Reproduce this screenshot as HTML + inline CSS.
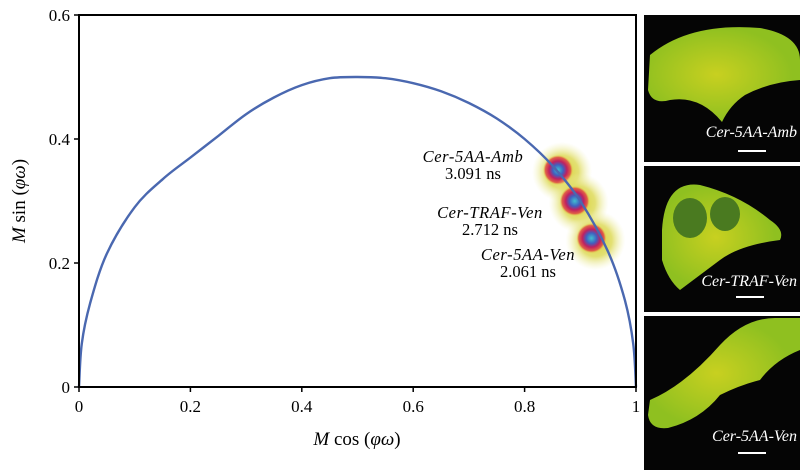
<!DOCTYPE html>
<html><head><meta charset="utf-8"><style>
html,body{margin:0;padding:0;background:#fff;width:800px;height:470px;overflow:hidden}
svg text{font-family:"Liberation Serif",serif;fill:#000}
</style></head><body>
<svg width="800" height="470" viewBox="0 0 800 470">
<defs>
<radialGradient id="halo"><stop offset="0" stop-color="#d8d030" stop-opacity="1"/><stop offset="0.55" stop-color="#dcd850" stop-opacity="0.8"/><stop offset="1" stop-color="#f0f0b0" stop-opacity="0"/></radialGradient>
<radialGradient id="core"><stop offset="0" stop-color="#40c0d0"/><stop offset="0.35" stop-color="#4060c0"/><stop offset="0.6" stop-color="#c02060"/><stop offset="0.85" stop-color="#e04040" stop-opacity="0.8"/><stop offset="1" stop-color="#e8c040" stop-opacity="0"/></radialGradient>
<radialGradient id="cellA" cx="0.45" cy="0.5"><stop offset="0" stop-color="#c8d020"/><stop offset="1" stop-color="#8fc020"/></radialGradient>
</defs>
<g id="plot"></g>
<g>
<g>
<rect x="644" y="15" width="156" height="147" fill="#050505"/>
<path d="M650 55 Q690 22 760 28 Q800 35 800 60 L800 80 Q770 82 745 95 Q730 105 722 122 Q700 95 670 100 Q652 105 648 90 Z" fill="url(#cellA)"/>
<text x="797" y="137" font-size="16" font-style="italic" text-anchor="end" style="fill:#fff">Cer-5AA-Amb</text>
<rect x="738" y="150" width="28" height="2" fill="#fff"/>
</g>
<g>
<rect x="644" y="166" width="156" height="146" fill="#050505"/>
<path d="M662 230 Q665 180 700 185 Q740 195 770 220 Q785 230 780 240 Q740 245 720 260 Q700 275 680 290 Q668 280 662 260 Z" fill="url(#cellA)"/>
<ellipse cx="690" cy="218" rx="17" ry="20" fill="#4a7a20"/>
<ellipse cx="725" cy="214" rx="15" ry="17" fill="#4a7a20"/>
<text x="797" y="286" font-size="16" font-style="italic" text-anchor="end" style="fill:#fff">Cer-TRAF-Ven</text>
<rect x="736" y="296" width="28" height="2" fill="#fff"/>
</g>
<g>
<rect x="644" y="316" width="156" height="154" fill="#050505"/>
<path d="M650 400 Q685 385 720 345 Q745 318 775 318 L800 318 L800 350 Q775 360 760 380 Q740 385 720 395 Q700 420 668 428 Q650 430 648 415 Z" fill="url(#cellA)"/>
<text x="797" y="441" font-size="16" font-style="italic" text-anchor="end" style="fill:#fff">Cer-5AA-Ven</text>
<rect x="738" y="452" width="28" height="2" fill="#fff"/>
</g>
</g>
</svg>
<script>
const xTicks=[0,0.2,0.4,0.6,0.8,1];
const xTickLabels=["0","0.2","0.4","0.6","0.8","1"];
const yTicks=[0,0.2,0.4,0.6];
const yTickLabels=["0","0.2","0.4","0.6"];
const clusterNames=["Cer-5AA-Amb","Cer-TRAF-Ven","Cer-5AA-Ven"];
const clusterLifetimes=["3.091 ns","2.712 ns","2.061 ns"];
const clusterG=[0.86,0.89,0.92];
const clusterS=[0.35,0.30,0.24];
const curveG=[0,0.005,0.02,0.05,0.1,0.15,0.2,0.25,0.3,0.35,0.4,0.45,0.5,0.55,0.6,0.65,0.7,0.75,0.8,0.85,0.9,0.95,0.98,0.995,1];
const curveS=[0,0.07,0.135,0.215,0.29,0.335,0.37,0.405,0.44,0.467,0.487,0.498,0.5,0.498,0.49,0.477,0.458,0.433,0.4,0.357,0.3,0.218,0.14,0.07,0];

const NS="http://www.w3.org/2000/svg";
const L=79,R=636,T=15,B=387;
const sx=v=>L+(R-L)*v;
const sy=v=>B-(B-T)*v/0.6;
const g=document.getElementById('plot');
function mk(t,a,p){const e=document.createElementNS(NS,t);for(const k in a)e.setAttribute(k,a[k]);(p||g).appendChild(e);return e;}

clusterG.forEach((gv,i)=>{
  const h=mk('ellipse',{cx:sx(gv)+4,cy:sy(clusterS[i])+2,rx:30,ry:30,fill:'url(#halo)'});
  
  
  const c=mk('circle',{cx:sx(gv),cy:sy(clusterS[i]),r:15,fill:'url(#core)'});
  
  
});
const P=curveG.map((v,i)=>[sx(v),sy(curveS[i])]);
let d='M'+P[0][0]+' '+P[0][1];
for(let i=0;i<P.length-1;i++){
  const p0=P[Math.max(0,i-1)],p1=P[i],p2=P[i+1],p3=P[Math.min(P.length-1,i+2)];
  const c1=[p1[0]+(p2[0]-p0[0])/6,p1[1]+(p2[1]-p0[1])/6];
  const c2=[p2[0]-(p3[0]-p1[0])/6,p2[1]-(p3[1]-p1[1])/6];
  d+=`C${c1[0].toFixed(1)} ${c1[1].toFixed(1)} ${c2[0].toFixed(1)} ${c2[1].toFixed(1)} ${p2[0].toFixed(1)} ${p2[1].toFixed(1)}`;
}
const sc=mk('path',{d:d,fill:'none',stroke:'#4a68b0','stroke-width':2.4});


const fr=mk('rect',{x:L,y:T,width:R-L,height:B-T,fill:'none',stroke:'#000','stroke-width':2});


xTicks.forEach((v,i)=>{
  mk('line',{x1:sx(v),x2:sx(v),y1:B,y2:B+5,stroke:'#000','stroke-width':1.5});
  const t=mk('text',{x:sx(v),y:B+25,'font-size':17,'text-anchor':'middle'});t.textContent=xTickLabels[i];
  
  
});
yTicks.forEach((v,i)=>{
  mk('line',{x1:L-5,x2:L,y1:sy(v),y2:sy(v),stroke:'#000','stroke-width':1.5});
  const t=mk('text',{x:L-9,y:sy(v)+6,'font-size':17,'text-anchor':'end'});t.textContent=yTickLabels[i];
  
  
});
const xt=mk('text',{x:357,y:445,'font-size':19,'text-anchor':'middle'});
xt.innerHTML='<tspan font-style="italic">M</tspan> cos (<tspan font-style="italic">φω</tspan>)';


const yt=mk('text',{x:0,y:0,'font-size':19,'text-anchor':'middle',transform:'translate(25,201) rotate(-90)'});
yt.innerHTML='<tspan font-style="italic">M</tspan> sin (<tspan font-style="italic">φω</tspan>)';


const labX=[473,490,528],labY=[162,218,260];
clusterNames.forEach((n,i)=>{
  const t1=mk('text',{x:labX[i],y:labY[i],'font-size':16.5,'font-style':'italic','text-anchor':'middle','letter-spacing':'0.6'});t1.textContent=n;
  
  
  const t2=mk('text',{x:labX[i],y:labY[i]+17,'font-size':16.5,'text-anchor':'middle'});t2.textContent=clusterLifetimes[i];
  
  
});
</script>
</body></html>
